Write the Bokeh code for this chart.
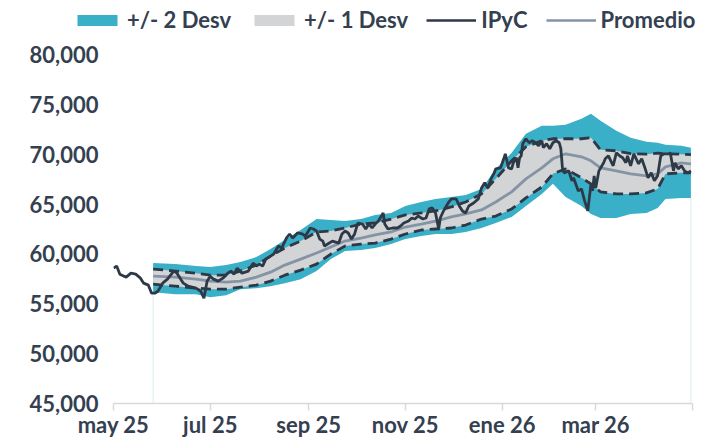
import pandas as pd
from bokeh.plotting import figure
from bokeh.layouts import column
from bokeh.models import Range1d, FixedTicker, NumeralTickFormatter, Legend, LegendItem
from bokeh.embed import file_html
from bokeh.resources import INLINE

# ---------------- data ----------------
ipyc_dates = [
    "2025-05-01", "2025-05-03", "2025-05-05", "2025-05-09", "2025-05-12", "2025-05-15", "2025-05-18",
    "2025-05-20", "2025-05-23", "2025-05-25", "2025-05-27", "2025-05-29", "2025-06-01", "2025-06-04",
    "2025-06-08", "2025-06-10", "2025-06-12", "2025-06-14", "2025-06-17", "2025-06-22", "2025-06-25",
    "2025-06-27", "2025-06-29", "2025-07-01", "2025-07-03", "2025-07-06", "2025-07-09", "2025-07-12",
    "2025-07-14", "2025-07-16", "2025-07-18", "2025-07-21", "2025-07-25", "2025-07-28", "2025-07-30",
    "2025-08-01", "2025-08-03", "2025-08-05", "2025-08-08", "2025-08-10", "2025-08-13", "2025-08-15",
    "2025-08-18", "2025-08-20", "2025-08-22", "2025-08-25", "2025-08-28", "2025-08-30", "2025-09-02",
    "2025-09-04", "2025-09-06", "2025-09-08", "2025-09-10", "2025-09-11", "2025-09-13", "2025-09-16",
    "2025-09-20", "2025-09-22", "2025-09-24", "2025-09-26", "2025-09-28", "2025-09-30", "2025-10-02",
    "2025-10-05", "2025-10-07", "2025-10-09", "2025-10-11", "2025-10-13", "2025-10-15", "2025-10-18",
    "2025-10-19", "2025-10-21", "2025-10-24", "2025-10-27", "2025-10-29", "2025-10-31", "2025-11-03",
    "2025-11-05", "2025-11-07", "2025-11-09", "2025-11-12", "2025-11-14", "2025-11-16", "2025-11-18",
    "2025-11-20", "2025-11-22", "2025-11-23", "2025-11-25", "2025-11-28", "2025-11-30", "2025-12-03",
    "2025-12-05", "2025-12-07", "2025-12-09", "2025-12-11", "2025-12-14", "2025-12-17", "2025-12-19",
    "2025-12-21", "2025-12-23", "2025-12-25", "2025-12-27", "2025-12-28", "2025-12-31", "2026-01-02",
    "2026-01-03", "2026-01-05", "2026-01-07", "2026-01-08", "2026-01-10", "2026-01-11", "2026-01-12",
    "2026-01-13", "2026-01-14", "2026-01-16", "2026-01-18", "2026-01-20", "2026-01-22", "2026-01-24",
    "2026-01-26", "2026-01-27", "2026-01-29", "2026-01-31", "2026-02-02", "2026-02-04", "2026-02-06",
    "2026-02-07", "2026-02-08", "2026-02-09", "2026-02-12", "2026-02-14", "2026-02-15", "2026-02-18",
    "2026-02-20", "2026-02-22", "2026-02-24", "2026-02-26", "2026-02-27", "2026-02-28", "2026-03-01",
    "2026-03-03", "2026-03-06", "2026-03-07", "2026-03-09", "2026-03-12", "2026-03-14", "2026-03-16",
    "2026-03-18", "2026-03-20", "2026-03-21", "2026-03-23", "2026-03-25", "2026-03-28", "2026-03-30",
    "2026-04-01", "2026-04-03", "2026-04-05", "2026-04-07", "2026-04-09", "2026-04-11", "2026-04-13",
    "2026-04-16", "2026-04-17", "2026-04-19", "2026-04-20", "2026-04-22", "2026-04-24", "2026-04-26",
    "2026-04-28", "2026-04-30",
]
ipyc_values = [
    58580, 58780, 57970, 57670, 58070, 57970, 57570,
    57070, 56870, 56060, 56060, 56260, 57070, 57470,
    58280, 58070, 57570, 57070, 56770, 56570, 56260,
    55560, 57270, 57770, 57470, 57270, 57570, 58070,
    58280, 57970, 58580, 58070, 58280, 59080, 58780,
    58980, 58780, 59480, 59780, 59990, 60790, 60590,
    61590, 62000, 61590, 62100, 62000, 61800, 62600,
    62500, 62300, 61490, 61290, 60790, 60990, 61290,
    61090, 62000, 62300, 62100, 61490, 62000, 63100,
    63000, 62500, 63000, 62600, 63000, 63300, 64110,
    63000, 62500, 62600, 62600, 62800, 63100, 63300,
    63600, 63500, 63800, 63500, 63600, 64510, 64610,
    64110, 62500, 63600, 64310, 65110, 65520, 65520,
    64810, 64310, 64110, 64810, 65110, 65520, 66620,
    67130, 66620, 67530, 68130, 68530, 68630, 69540,
    70040, 68630, 68530, 69140, 69640, 68630, 69640,
    69840, 71050, 71550, 71150, 71350, 71150, 70850,
    71350, 70650, 71050, 70550, 71150, 71350, 71150,
    70550, 68630, 68130, 68330, 67330, 67630, 66320,
    66520, 65320, 64310, 67030, 66320, 67830, 66620,
    68330, 69140, 69540, 69840, 68840, 70140, 69840,
    69640, 69140, 69840, 68840, 70040, 69040, 69540,
    68630, 67630, 68130, 67330, 67830, 69840, 70040,
    70040, 70140, 68330, 69140, 68530, 68840, 68330,
    68130, 68330,
]

band_dates = [
    "2025-05-26", "2025-06-09", "2025-06-22", "2025-07-01", "2025-07-11", "2025-07-20", "2025-07-30",
    "2025-08-08", "2025-08-17", "2025-08-27", "2025-09-06", "2025-09-15", "2025-09-24", "2025-10-04",
    "2025-10-13", "2025-10-23", "2025-11-01", "2025-11-11", "2025-11-20", "2025-11-30", "2025-12-09",
    "2025-12-19", "2025-12-28", "2026-01-07", "2026-01-16", "2026-01-26", "2026-02-02", "2026-02-10",
    "2026-02-20", "2026-02-26", "2026-03-04", "2026-03-14", "2026-03-23", "2026-04-02", "2026-04-09",
    "2026-04-14", "2026-04-24", "2026-04-30",
]
promedio = [
    57770, 57670, 57470, 57270, 57170, 57270, 57670,
    58170, 58880, 59480, 60090, 60690, 61290, 61590,
    61900, 62200, 62700, 63000, 63300, 63710, 64010,
    64410, 65210, 66220, 67530, 68630, 69540, 70040,
    69740, 69340, 68630, 68330, 68030, 67830, 68030,
    68730, 69140, 69040,
]
upper_1 = [
    58480, 58280, 58070, 57870, 57870, 58280, 58880,
    59780, 60590, 61290, 62200, 62300, 62600, 63000,
    63100, 63500, 63910, 64110, 64310, 64710, 65210,
    66020, 67530, 69340, 70750, 71350, 71550, 71550,
    71550, 71650, 70440, 70340, 70050, 70000, 70100,
    70050, 70000, 69950,
]
lower_1 = [
    56970, 56770, 56570, 56470, 56470, 56670, 56870,
    57270, 57870, 58380, 58980, 59990, 60790, 60990,
    61090, 61490, 62000, 62400, 62500, 62600, 62900,
    63500, 63800, 64510, 65620, 66720, 68030, 68530,
    67630, 67030, 66220, 66020, 66020, 66120, 66520,
    68030, 68130, 68130,
]
upper_2 = [
    59080, 58980, 58780, 58680, 58880, 59180, 59680,
    60490, 61390, 62400, 63500, 63400, 63300, 63500,
    63910, 64110, 64810, 65210, 65520, 65710, 65920,
    66520, 68530, 70140, 72050, 72860, 72860, 72960,
    73560, 74070, 73360, 72350, 71650, 71250, 71150,
    70950, 70850, 70650,
]
lower_2 = [
    56160, 55960, 55960, 55660, 55860, 56470, 56570,
    56770, 57070, 57470, 58280, 59480, 60290, 60390,
    60590, 60990, 61490, 61800, 62000, 62000, 62200,
    62600, 63100, 63710, 64810, 66020, 67030, 65720,
    64810, 64010, 63600, 63600, 64010, 64110, 64610,
    65520, 65620, 65620,
]

tick_dates = ["2025-05-01", "2025-07-01", "2025-09-01", "2025-11-01", "2026-01-01", "2026-03-01", "2026-05-01"]
tick_labels = ["may 25", "jul 25", "sep 25", "nov 25", "ene 26", "mar 26", ""]
y_ticks = [45000, 50000, 55000, 60000, 65000, 70000, 75000, 80000]

legend_labels = ["+/- 2 Desv", "+/- 1 Desv", "IPyC", "Promedio"]

# ---------------- styling ----------------
TEAL = "#3AAFC8"
GRAY = "#D3D4D6"
DARK = "#2E3947"
SLATE = "#8494A5"
TEXT = "#344050"
FONT = "Lato"

ipyc_x = pd.to_datetime(ipyc_dates)
band_x = pd.to_datetime(band_dates)
tick_x = pd.to_datetime(tick_dates)
tick_ms = [int(t.value // 10**6) for t in tick_x]

# ---------------- legend strip on top ----------------
top = figure(
    width=705, height=36,
    x_range=Range1d(0, 1), y_range=Range1d(0, 1),
    x_axis_location=None, y_axis_location=None,
    output_backend="svg", toolbar_location=None,
    min_border_left=0, min_border_right=0, min_border_top=0, min_border_bottom=0,
)
if "frame_align" in top.properties():
    top.frame_align = False
top.outline_line_color = None
top.xgrid.visible = False
top.ygrid.visible = False
top.border_fill_color = "white"
# legend-only glyphs (their data lie outside the strip's visible range)
off = [5, 6]
lg_2 = top.varea(x=off, y1=off, y2=off, fill_color=TEAL)
lg_1 = top.varea(x=off, y1=off, y2=off, fill_color=GRAY)
lg_ipyc = top.line(off, off, line_color=DARK, line_width=2.6)
lg_prom = top.line(off, off, line_color=SLATE, line_width=2.6)

legend = Legend(
    items=[LegendItem(label=legend_labels[0], renderers=[lg_2]),
           LegendItem(label=legend_labels[1], renderers=[lg_1]),
           LegendItem(label=legend_labels[2], renderers=[lg_ipyc]),
           LegendItem(label=legend_labels[3], renderers=[lg_prom])],
    orientation="horizontal",
    location=(72, 3),
    glyph_width=50, glyph_height=14,
    label_standoff=5, spacing=18, padding=0, margin=0,
    border_line_color=None, background_fill_alpha=0,
    label_text_font=FONT, label_text_font_style="bold",
    label_text_font_size="22px", label_text_color=TEXT,
)
top.add_layout(legend)

# ---------------- main chart ----------------
p = figure(
    width=705, height=404,
    x_axis_type="datetime",
    x_range=Range1d(tick_x[0], tick_x[-1]),
    y_range=Range1d(y_ticks[0], y_ticks[-1]),
    output_backend="svg", toolbar_location=None,
    min_border_left=113, min_border_right=13, min_border_top=18, min_border_bottom=37,
)
if "frame_align" in p.properties():
    p.frame_align = False
p.outline_line_color = None
p.xgrid.visible = False
p.ygrid.visible = False
p.background_fill_color = "white"
p.border_fill_color = "white"

# faint vertical edge lines of the band areas
p.segment(x0=[band_x[0], band_x[-1]], y0=[y_ticks[0], y_ticks[0]],
          x1=[band_x[0], band_x[-1]], y1=[lower_2[0], lower_2[-1]],
          line_color="#DCEBF0", line_width=1)

p.varea(x=band_x, y1=lower_2, y2=upper_2, fill_color=TEAL)
p.varea(x=band_x, y1=lower_1, y2=upper_1, fill_color=GRAY)
p.line(band_x, upper_1, line_color=DARK, line_width=2.8, line_dash="10 6")
p.line(band_x, lower_1, line_color=DARK, line_width=2.8, line_dash="10 6")
p.line(band_x, promedio, line_color=SLATE, line_width=2.8)
p.line(ipyc_x, ipyc_values, line_color=DARK, line_width=2.8)

# axes
p.yaxis.ticker = FixedTicker(ticks=y_ticks)
p.yaxis.formatter = NumeralTickFormatter(format="0,0")
p.yaxis.axis_line_color = None
p.yaxis.major_tick_line_color = None
p.yaxis.minor_tick_line_color = None
p.yaxis.major_label_standoff = 9

p.xaxis.ticker = FixedTicker(ticks=tick_ms)
p.xaxis.major_label_overrides = {ms: lab for ms, lab in zip(tick_ms, tick_labels)}
p.xaxis.axis_line_color = "#D9D9D9"
p.xaxis.axis_line_width = 1.5
p.xaxis.major_tick_line_color = "#D9D9D9"
p.xaxis.major_tick_line_width = 1.5
p.xaxis.major_tick_in = 0
p.xaxis.major_tick_out = 7
p.xaxis.minor_tick_line_color = None
p.xaxis.major_label_standoff = 0

for ax in (p.xaxis, p.yaxis):
    ax.major_label_text_font = FONT
    ax.major_label_text_font_style = "bold"
    ax.major_label_text_font_size = "22px"
    ax.major_label_text_color = TEXT

layout = column(top, p, spacing=0)

open("out.html", "w").write(file_html(layout, INLINE))
